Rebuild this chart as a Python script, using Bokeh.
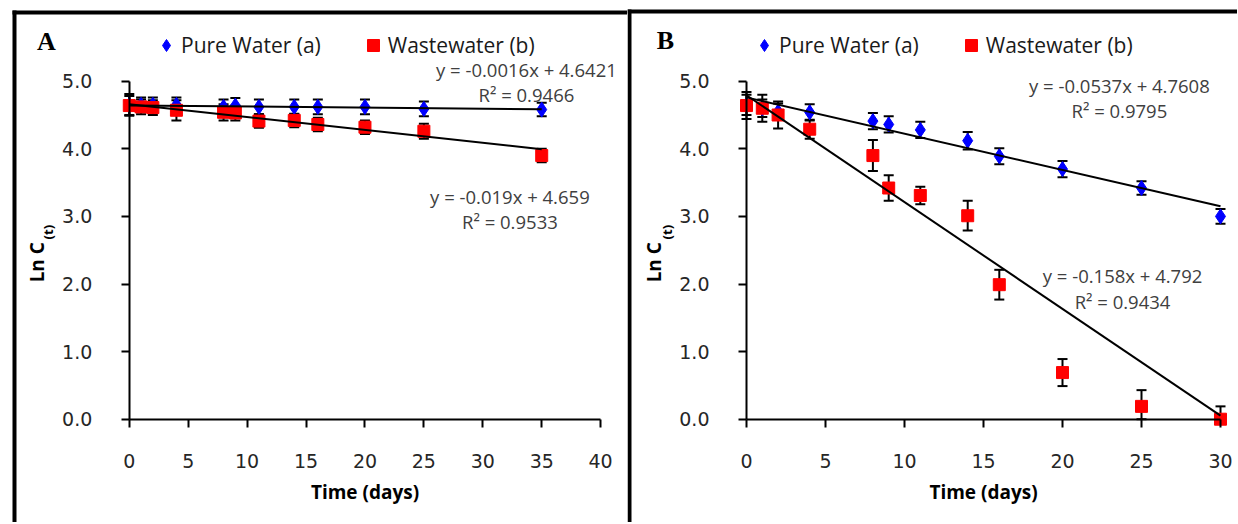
import math
from bokeh.plotting import figure
from bokeh.models import (ColumnDataSource, Whisker, TeeHead, Range1d, Label,
                          Legend, LegendItem, FixedTicker, BoxAnnotation)
from bokeh.layouts import row
from bokeh.embed import file_html
from bokeh.resources import INLINE

# ---------------- data ----------------
days_a = [0, 1, 2, 4, 8, 9, 11, 14, 16, 20, 25, 35]
pure_a = [4.65, 4.65, 4.65, 4.65, 4.62, 4.64, 4.62, 4.62, 4.62, 4.62, 4.59, 4.58]
pure_a_err = [0.16, 0.11, 0.11, 0.11, 0.11, 0.11, 0.11, 0.11, 0.11, 0.11, 0.11, 0.10]
waste_a = [4.64, 4.62, 4.61, 4.57, 4.54, 4.53, 4.41, 4.42, 4.36, 4.32, 4.26, 3.90]
waste_a_err = [0.14, 0.11, 0.11, 0.15, 0.12, 0.11, 0.10, 0.10, 0.10, 0.10, 0.11, 0.10]

days_b = [0, 1, 2, 4, 8, 9, 11, 14, 16, 20, 25, 30]
pure_b = [4.65, 4.60, 4.55, 4.54, 4.41, 4.36, 4.28, 4.12, 3.89, 3.70, 3.42, 3.00]
pure_b_err = [0.15, 0.13, 0.12, 0.12, 0.12, 0.12, 0.12, 0.13, 0.12, 0.12, 0.10, 0.11]
waste_b = [4.64, 4.60, 4.50, 4.29, 3.90, 3.42, 3.31, 3.01, 1.99, 0.69, 0.19, 0.00]
waste_b_err = [0.20, 0.20, 0.20, 0.14, 0.23, 0.19, 0.13, 0.22, 0.22, 0.20, 0.24, 0.19]

# trendline coefficients (slope, intercept, R^2) as printed on the chart
fit_a_pure = (-0.0016, 4.6421, 0.9466)
fit_a_waste = (-0.019, 4.659, 0.9533)
fit_b_pure = (-0.0537, 4.7608, 0.9795)
fit_b_waste = (-0.158, 4.792, 0.9434)

x_ticks_a = [0, 5, 10, 15, 20, 25, 30, 35, 40]
x_ticks_b = [0, 5, 10, 15, 20, 25, 30]
y_ticks = [0, 1, 2, 3, 4, 5]
y_tick_labels = ["0.0", "1.0", "2.0", "3.0", "4.0", "5.0"]

series_names = ["Pure Water (a)", "Wastewater (b)"]
x_title = "Time (days)"
y_title = "Ln C"
y_title_sub = "(t)"

FONT = "Open Sans"
TICK_FONT = "DejaVu Sans"
H = 522
Y_RANGE = (-1.528, 6.194)


def make_panel(letter, days, pure, pure_err, waste, waste_err, fit_p, fit_w,
               x_ticks, width, x_range, legend_loc, border_lr, border_tb,
               letter_xy, ytitle_xy, ysub_xy, eq_p_xy, eq_w_xy):
    p = figure(width=width, height=H, x_range=Range1d(*x_range),
               y_range=Range1d(*Y_RANGE), output_backend="svg",
               toolbar_location=None, min_border=0)
    p.outline_line_color = None
    p.grid.visible = False
    p.background_fill_color = "white"
    p.border_fill_color = "white"

    xa = p.xaxis[0]
    ya = p.yaxis[0]
    xa.fixed_location = 0
    ya.fixed_location = 0
    xa.bounds = (x_ticks[0], x_ticks[-1])
    ya.bounds = (y_ticks[0], y_ticks[-1])
    xa.ticker = FixedTicker(ticks=x_ticks)
    ya.ticker = FixedTicker(ticks=y_ticks)
    ya.major_label_overrides = {t: l for t, l in zip(y_ticks, y_tick_labels)}
    for ax in (xa, ya):
        ax.axis_line_color = "black"
        ax.axis_line_width = 2
        ax.major_tick_line_color = "black"
        ax.major_tick_line_width = 2
        ax.major_tick_out = 8
        ax.major_tick_in = 0
        ax.minor_tick_line_color = None
        ax.major_label_text_font = TICK_FONT
        ax.major_label_text_font_size = "19px"
        ax.major_label_text_color = "#262626"
    xa.major_label_standoff = 27
    ya.major_label_standoff = 29
    xa.axis_label = x_title
    xa.axis_label_text_font = FONT
    xa.axis_label_text_font_style = "bold"
    xa.axis_label_text_font_size = "19px"
    xa.axis_label_text_color = "black"
    xa.axis_label_standoff = 7

    # error bars (the chart clips them at the axis minimum 0)
    src_p = ColumnDataSource(dict(x=days, y=pure,
                                  lo=[max(v - e, 0) for v, e in zip(pure, pure_err)],
                                  hi=[v + e for v, e in zip(pure, pure_err)]))
    src_w = ColumnDataSource(dict(x=days, y=waste,
                                  lo=[max(v - e, 0) for v, e in zip(waste, waste_err)],
                                  hi=[v + e for v, e in zip(waste, waste_err)]))
    for src in (src_p, src_w):
        w = Whisker(source=src, base="x", lower="lo", upper="hi",
                    line_color="black", line_width=2,
                    upper_head=TeeHead(size=10, line_width=2, line_color="black"),
                    lower_head=TeeHead(size=10, line_width=2, line_color="black"))
        p.add_layout(w)

    r_p = p.scatter("x", "y", source=src_p, marker="diamond", size=15,
                    fill_color="#0000FF", line_color="#0000FF")
    r_w = p.scatter("x", "y", source=src_w, marker="square", size=12,
                    fill_color="#FF0000", line_color="#FF0000")

    # trendlines
    x0, x1 = min(days), max(days)
    for (m, b, _r2) in (fit_p, fit_w):
        p.line([x0, x1], [m * x0 + b, m * x1 + b], line_color="black",
               line_width=2)

    legend = Legend(items=[LegendItem(label=series_names[0], renderers=[r_p]),
                           LegendItem(label=series_names[1], renderers=[r_w])],
                    orientation="horizontal", location=legend_loc,
                    padding=0, spacing=37, margin=0,
                    glyph_width=30, glyph_height=30, label_standoff=0,
                    border_line_color=None, background_fill_alpha=0,
                    label_text_font=FONT, label_text_font_size="21px",
                    label_text_color="#1a1a1a")
    p.add_layout(legend)

    # panel frame (left and top border)
    (bl, br), (bt, bb) = border_lr, border_tb
    p.add_layout(BoxAnnotation(left=bl, right=br, top=bt, bottom=Y_RANGE[0],
                               fill_color="black", fill_alpha=1,
                               line_color=None))
    p.add_layout(BoxAnnotation(left=bl, right=x_range[1], top=bt, bottom=bb,
                               fill_color="black", fill_alpha=1,
                               line_color=None))

    p.add_layout(Label(x=letter_xy[0], y=letter_xy[1], text=letter,
                       text_font="Liberation Serif", text_font_style="bold",
                       text_font_size="26px", text_align="center",
                       text_baseline="middle", text_color="black"))
    p.add_layout(Label(x=ytitle_xy[0], y=ytitle_xy[1], text=y_title,
                       angle=math.pi / 2, text_font=FONT,
                       text_font_style="bold", text_font_size="19px",
                       text_align="right", text_baseline="middle",
                       text_color="black"))
    p.add_layout(Label(x=ysub_xy[0], y=ysub_xy[1], text=y_title_sub,
                       angle=math.pi / 2, text_font=FONT,
                       text_font_style="bold", text_font_size="13px",
                       text_align="left", text_baseline="middle",
                       text_color="black"))

    for (m, b, r2), (ex, ey1, ey2) in ((fit_p, eq_p_xy), (fit_w, eq_w_xy)):
        p.add_layout(Label(x=ex, y=ey1, text=f"y = {m}x + {b}",
                           text_font=FONT, text_font_size="18.5px",
                           text_align="center", text_baseline="middle",
                           text_color="#404040"))
        p.add_layout(Label(x=ex, y=ey2, text=f"R\u00b2 = {r2}",
                           text_font=FONT, text_font_size="18.5px",
                           text_align="center", text_baseline="middle",
                           text_color="#404040"))
    return p


pa = make_panel("A", days_a, pure_a, pure_a_err, waste_a, waste_a_err,
                fit_a_pure, fit_a_waste, x_ticks_a, 627, (-10.93, 42.28),
                (151, 462), (-9.912, -9.572), (6.046, 5.987),
                (-7.03, 5.59), (-7.8, 2.62), (-6.88, 2.66),
                (33.7, 5.17, 4.80), (32.3, 3.30, 2.93))
pb = make_panel("B", days_b, pure_b, pure_b_err, waste_b, waste_b_err,
                fit_b_pure, fit_b_waste, x_ticks_b, 610, (-7.532, 31.076),
                (122, 462), (-7.532, -7.279), (6.061, 6.002),
                (-5.13, 5.60), (-5.85, 2.62), (-5.06, 2.66),
                (23.6, 4.94, 4.56), (23.8, 2.12, 1.74))

layout = row(pa, pb)
open("out.html", "w").write(file_html(layout, INLINE))
